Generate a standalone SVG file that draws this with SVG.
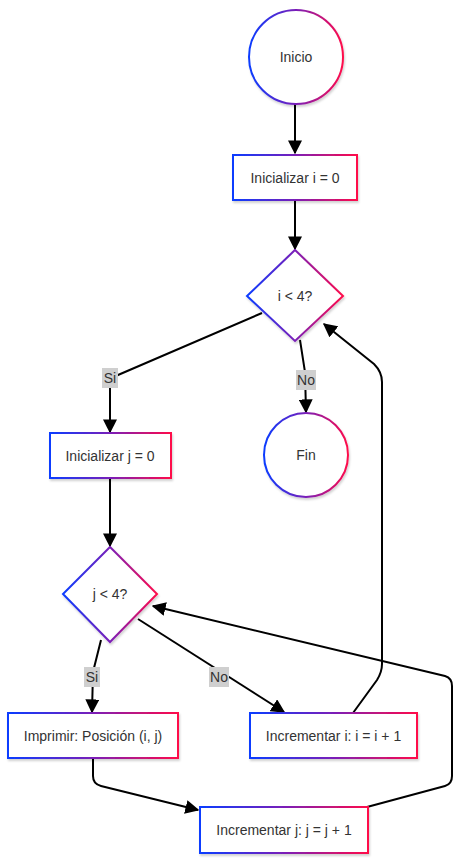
<svg xmlns="http://www.w3.org/2000/svg" width="462" height="864" viewBox="0 0 462 864">
<defs>
  <linearGradient id="g" x1="0" y1="0" x2="1" y2="0">
    <stop offset="0" stop-color="#0a3cff"/>
    <stop offset="0.5" stop-color="#7a1fb8"/>
    <stop offset="1" stop-color="#ff0a4a"/>
  </linearGradient>
  <filter id="sh" x="-20%" y="-20%" width="140%" height="150%">
    <feDropShadow dx="1" dy="2" stdDeviation="1.2" flood-color="#000" flood-opacity="0.18"/>
  </filter>
  <marker id="arr" markerUnits="userSpaceOnUse" markerWidth="14" markerHeight="14" viewBox="0 0 10 10" refX="9" refY="5" orient="auto">
    <path d="M0,0 L10,5 L0,10 z" fill="#000"/>
  </marker>
  <style>
    .node { fill: #fff; stroke: url(#g); stroke-width: 2; filter: url(#sh); }
    .t { font-family: "Liberation Sans", Arial, sans-serif; font-size: 14px; fill: #333; text-anchor: middle; dominant-baseline: central; }
    .e { fill: none; stroke: #000; stroke-width: 2; }
    .lb { fill: #cfcfcf; }
  </style>
</defs>
<g id="edges">
  <path class="e" d="M295,104 L295,153" marker-end="url(#arr)"/>
  <path class="e" d="M295,200 L295,249" marker-end="url(#arr)"/>
  <path class="e" d="M262,313 L118,375 Q110,379 110,387 L110,432" marker-end="url(#arr)"/>
  <path class="e" d="M300,340 L305,372 L306,412" marker-end="url(#arr)"/>
  <path class="e" d="M110,478 L110,546" marker-end="url(#arr)"/>
  <path class="e" d="M101,640 L93,672 L92,712" marker-end="url(#arr)"/>
  <path class="e" d="M138,619 L284,712" marker-end="url(#arr)"/>
  <path class="e" d="M353,713 L377,680 Q382,672 382,664 L382,382 Q382,372 374,364 L324,324" marker-end="url(#arr)"/>
  <path class="e" d="M93,758 L93,776 Q93,784 101,786 L198,810" marker-end="url(#arr)"/>
  <path class="e" d="M367,807 L445,786 Q452,784 452,776 L452,686 Q452,678 445,676 L153,606" marker-end="url(#arr)"/>
</g>
<g id="labels">
  <rect class="lb" x="102" y="368" width="16" height="20"/>
  <text class="t" x="110" y="378">Si</text>
  <rect class="lb" x="296" y="370" width="20" height="20"/>
  <text class="t" x="306" y="380">No</text>
  <rect class="lb" x="84" y="667" width="16" height="20"/>
  <text class="t" x="92" y="677">Si</text>
  <rect class="lb" x="209" y="667" width="20" height="20"/>
  <text class="t" x="219" y="677">No</text>
</g>
<g id="inicio">
  <circle class="node" cx="296" cy="57" r="47"/>
  <text class="t" x="296" y="57">Inicio</text>
</g>
<g id="init_i">
  <rect class="node" x="233" y="155" width="124" height="45"/>
  <text class="t" x="295" y="177.5">Inicializar i = 0</text>
</g>
<g id="cond_i">
  <polygon class="node" points="295,250 343,296 295,341 247,296"/>
  <text class="t" x="295" y="296">i &lt; 4?</text>
</g>
<g id="init_j">
  <rect class="node" x="50" y="433" width="121" height="45"/>
  <text class="t" x="110" y="455.5">Inicializar j = 0</text>
</g>
<g id="fin">
  <circle class="node" cx="306" cy="455" r="42"/>
  <text class="t" x="306" y="455">Fin</text>
</g>
<g id="cond_j">
  <polygon class="node" points="110,547 157,594 110,642 63,594"/>
  <text class="t" x="110" y="594">j &lt; 4?</text>
</g>
<g id="imprimir">
  <rect class="node" x="8" y="713" width="170" height="45"/>
  <text class="t" x="93" y="735.5">Imprimir: Posición (i, j)</text>
</g>
<g id="inc_i">
  <rect class="node" x="250" y="713" width="167" height="45"/>
  <text class="t" x="333.5" y="735.5">Incrementar i: i = i + 1</text>
</g>
<g id="inc_j">
  <rect class="node" x="200" y="807" width="168" height="46"/>
  <text class="t" x="284" y="830">Incrementar j: j = j + 1</text>
</g>
</svg>
